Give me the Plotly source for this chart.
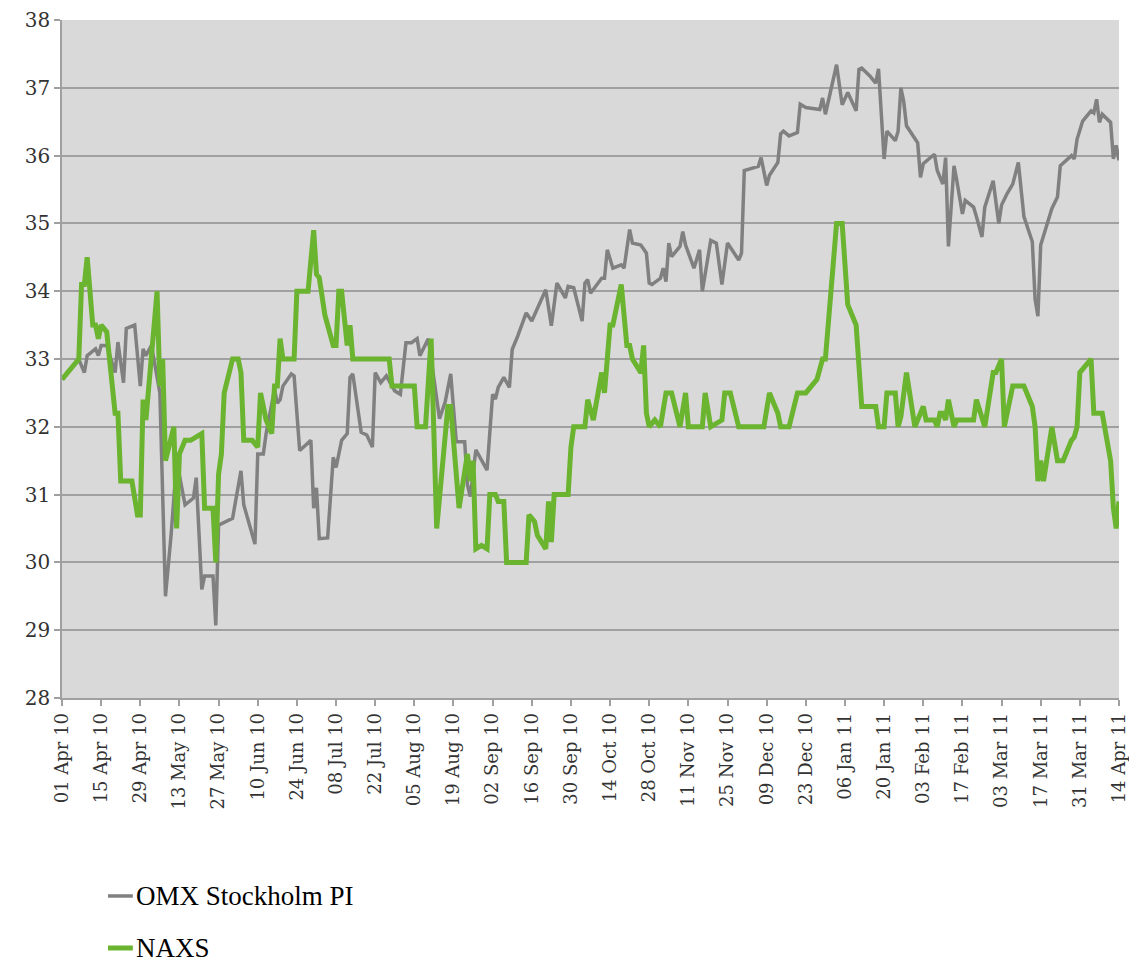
import plotly.graph_objects as go

# ---- data ----
omx_dates = [
    "2010-04-01", "2010-04-07", "2010-04-09", "2010-04-10", "2010-04-13", "2010-04-14", "2010-04-15", "2010-04-17",
    "2010-04-20", "2010-04-21", "2010-04-23", "2010-04-24", "2010-04-27", "2010-04-29", "2010-04-30", "2010-05-01",
    "2010-05-03", "2010-05-06", "2010-05-08", "2010-05-10", "2010-05-12", "2010-05-15", "2010-05-18", "2010-05-19",
    "2010-05-21", "2010-05-22", "2010-05-25", "2010-05-26", "2010-05-27", "2010-06-01", "2010-06-04", "2010-06-05",
    "2010-06-09", "2010-06-10", "2010-06-12", "2010-06-13", "2010-06-16", "2010-06-17", "2010-06-18", "2010-06-19",
    "2010-06-22", "2010-06-23", "2010-06-25", "2010-06-29", "2010-06-30", "2010-07-01", "2010-07-02", "2010-07-05",
    "2010-07-07", "2010-07-08", "2010-07-10", "2010-07-12", "2010-07-13", "2010-07-14", "2010-07-17", "2010-07-19",
    "2010-07-21", "2010-07-22", "2010-07-24", "2010-07-26", "2010-07-29", "2010-07-31", "2010-08-02", "2010-08-04",
    "2010-08-06", "2010-08-07", "2010-08-10", "2010-08-14", "2010-08-16", "2010-08-18", "2010-08-20", "2010-08-23",
    "2010-08-24", "2010-08-25", "2010-08-27", "2010-08-31", "2010-09-02", "2010-09-03", "2010-09-04", "2010-09-06",
    "2010-09-08", "2010-09-09", "2010-09-11", "2010-09-14", "2010-09-16", "2010-09-21", "2010-09-23", "2010-09-25",
    "2010-09-28", "2010-09-29", "2010-10-01", "2010-10-04", "2010-10-05", "2010-10-06", "2010-10-07", "2010-10-11",
    "2010-10-12", "2010-10-13", "2010-10-15", "2010-10-18", "2010-10-19", "2010-10-21", "2010-10-22", "2010-10-25",
    "2010-10-27", "2010-10-28", "2010-10-29", "2010-11-01", "2010-11-02", "2010-11-03", "2010-11-04", "2010-11-05",
    "2010-11-08", "2010-11-09", "2010-11-10", "2010-11-13", "2010-11-15", "2010-11-16", "2010-11-19", "2010-11-21",
    "2010-11-23", "2010-11-25", "2010-11-29", "2010-11-30", "2010-12-01", "2010-12-03", "2010-12-06", "2010-12-07",
    "2010-12-09", "2010-12-10", "2010-12-13", "2010-12-14", "2010-12-15", "2010-12-17", "2010-12-20", "2010-12-21",
    "2010-12-23", "2010-12-28", "2010-12-29", "2010-12-30", "2011-01-03", "2011-01-05", "2011-01-07", "2011-01-10",
    "2011-01-11", "2011-01-12", "2011-01-15", "2011-01-17", "2011-01-18", "2011-01-20", "2011-01-21", "2011-01-24",
    "2011-01-25", "2011-01-26", "2011-01-27", "2011-01-28", "2011-01-31", "2011-02-01", "2011-02-02", "2011-02-03",
    "2011-02-07", "2011-02-08", "2011-02-10", "2011-02-11", "2011-02-12", "2011-02-14", "2011-02-15", "2011-02-17",
    "2011-02-18", "2011-02-21", "2011-02-22", "2011-02-24", "2011-02-25", "2011-02-28", "2011-03-02", "2011-03-03",
    "2011-03-05", "2011-03-07", "2011-03-09", "2011-03-11", "2011-03-14", "2011-03-15", "2011-03-16", "2011-03-17",
    "2011-03-19", "2011-03-21", "2011-03-23", "2011-03-24", "2011-03-28", "2011-03-29", "2011-03-30", "2011-04-01",
    "2011-04-04", "2011-04-05", "2011-04-06", "2011-04-07", "2011-04-08", "2011-04-11", "2011-04-12", "2011-04-13",
    "2011-04-14",
]
omx_values = [
    32.7, 33.0, 32.8, 33.05, 33.15, 33.05, 33.2, 33.2,
    32.8, 33.25, 32.65, 33.45, 33.5, 32.6, 33.15, 33.05,
    33.2, 32.5, 29.5, 30.4, 31.5, 30.85, 30.95, 31.25,
    29.6, 29.8, 29.8, 29.07, 30.55, 30.65, 31.35, 30.85,
    30.27, 31.6, 31.6, 31.9, 32.55, 32.35, 32.4, 32.6,
    32.78, 32.75, 31.65, 31.8, 30.8, 31.1, 30.35, 30.36,
    31.55, 31.4, 31.8, 31.9, 32.73, 32.78, 31.92, 31.88,
    31.7, 32.8, 32.65, 32.75, 32.53, 32.48, 33.24, 33.24,
    33.3, 33.05, 33.3, 32.12, 32.36, 32.78, 31.78, 31.78,
    31.14, 30.97, 31.66, 31.36, 32.48, 32.41, 32.58, 32.73,
    32.58, 33.14, 33.34, 33.68, 33.56, 34.02, 33.49, 34.12,
    33.9, 34.07, 34.05, 33.56, 34.12, 34.17, 33.97, 34.19,
    34.19, 34.61, 34.34, 34.39, 34.34, 34.91, 34.71, 34.68,
    34.56, 34.12, 34.1, 34.19, 34.34, 34.14, 34.71, 34.51,
    34.66, 34.88, 34.68, 34.34, 34.61, 34.0, 34.75, 34.71,
    34.1, 34.71, 34.46, 34.56, 35.78, 35.8, 35.84, 35.97,
    35.56, 35.71, 35.9, 36.32, 36.36, 36.29, 36.34, 36.76,
    36.71, 36.68, 36.85, 36.61, 37.34, 36.75, 36.93, 36.66,
    37.27, 37.29, 37.17, 37.07, 37.28, 35.95, 36.36, 36.22,
    36.36, 37.0, 36.8, 36.44, 36.24, 36.19, 35.68, 35.88,
    36.02, 35.78, 35.58, 35.97, 34.66, 35.85, 35.63, 35.14,
    35.34, 35.24, 35.1, 34.8, 35.24, 35.63, 35.0, 35.27,
    35.44, 35.58, 35.9, 35.1, 34.73, 33.88, 33.63, 34.68,
    34.95, 35.22, 35.39, 35.85, 36.0, 35.95, 36.24, 36.51,
    36.66, 36.63, 36.83, 36.49, 36.61, 36.49, 35.95, 36.15,
    35.93,
]

naxs_dates = [
    "2010-04-01", "2010-04-07", "2010-04-08", "2010-04-09", "2010-04-10", "2010-04-11", "2010-04-12", "2010-04-13",
    "2010-04-14", "2010-04-15", "2010-04-17", "2010-04-20", "2010-04-21", "2010-04-22", "2010-04-26", "2010-04-28",
    "2010-04-29", "2010-04-30", "2010-05-01", "2010-05-05", "2010-05-06", "2010-05-07", "2010-05-08", "2010-05-11",
    "2010-05-12", "2010-05-13", "2010-05-15", "2010-05-17", "2010-05-21", "2010-05-22", "2010-05-25", "2010-05-26",
    "2010-05-27", "2010-05-28", "2010-05-29", "2010-06-01", "2010-06-03", "2010-06-04", "2010-06-05", "2010-06-08",
    "2010-06-10", "2010-06-11", "2010-06-13", "2010-06-15", "2010-06-16", "2010-06-17", "2010-06-18", "2010-06-19",
    "2010-06-23", "2010-06-24", "2010-06-28", "2010-06-30", "2010-07-01", "2010-07-02", "2010-07-04", "2010-07-07",
    "2010-07-08", "2010-07-09", "2010-07-10", "2010-07-12", "2010-07-13", "2010-07-14", "2010-07-27", "2010-07-28",
    "2010-08-05", "2010-08-06", "2010-08-09", "2010-08-11", "2010-08-13", "2010-08-17", "2010-08-18", "2010-08-21",
    "2010-08-24", "2010-08-25", "2010-08-26", "2010-08-27", "2010-08-29", "2010-08-31", "2010-09-01", "2010-09-03",
    "2010-09-04", "2010-09-06", "2010-09-07", "2010-09-14", "2010-09-15", "2010-09-17", "2010-09-18", "2010-09-21",
    "2010-09-22", "2010-09-23", "2010-09-24", "2010-09-29", "2010-09-30", "2010-10-01", "2010-10-05", "2010-10-06",
    "2010-10-08", "2010-10-11", "2010-10-12", "2010-10-14", "2010-10-15", "2010-10-18", "2010-10-20", "2010-10-21",
    "2010-10-22", "2010-10-25", "2010-10-26", "2010-10-27", "2010-10-28", "2010-10-30", "2010-11-01", "2010-11-03",
    "2010-11-05", "2010-11-08", "2010-11-10", "2010-11-11", "2010-11-16", "2010-11-17", "2010-11-19", "2010-11-23",
    "2010-11-24", "2010-11-26", "2010-11-29", "2010-12-08", "2010-12-10", "2010-12-13", "2010-12-14", "2010-12-17",
    "2010-12-20", "2010-12-23", "2010-12-27", "2010-12-29", "2010-12-30", "2011-01-03", "2011-01-05", "2011-01-07",
    "2011-01-10", "2011-01-12", "2011-01-17", "2011-01-18", "2011-01-20", "2011-01-21", "2011-01-24", "2011-01-25",
    "2011-01-26", "2011-01-28", "2011-01-31", "2011-02-03", "2011-02-04", "2011-02-07", "2011-02-08", "2011-02-09",
    "2011-02-10", "2011-02-11", "2011-02-12", "2011-02-14", "2011-02-15", "2011-02-21", "2011-02-22", "2011-02-25",
    "2011-02-28", "2011-03-01", "2011-03-03", "2011-03-04", "2011-03-07", "2011-03-11", "2011-03-14", "2011-03-15",
    "2011-03-16", "2011-03-17", "2011-03-18", "2011-03-21", "2011-03-23", "2011-03-25", "2011-03-28", "2011-03-29",
    "2011-03-30", "2011-03-31", "2011-04-04", "2011-04-05", "2011-04-08", "2011-04-11", "2011-04-12", "2011-04-13",
    "2011-04-14",
]
naxs_values = [
    32.7, 33.0, 34.1, 34.1, 34.5, 34.0, 33.5, 33.5,
    33.3, 33.5, 33.4, 32.2, 32.2, 31.2, 31.2, 30.7,
    30.7, 32.4, 32.1, 34.0, 32.6, 33.0, 31.5, 32.0,
    30.5, 31.6, 31.8, 31.8, 31.9, 30.8, 30.8, 30.0,
    31.3, 31.6, 32.5, 33.0, 33.0, 32.8, 31.8, 31.8,
    31.7, 32.5, 32.1, 31.9, 32.6, 32.6, 33.3, 33.0,
    33.0, 34.0, 34.0, 34.9, 34.25, 34.2, 33.65, 33.2,
    33.2, 34.0, 34.0, 33.2, 33.5, 33.0, 33.0, 32.6,
    32.6, 32.0, 32.0, 33.3, 30.5, 32.3, 32.3, 30.8,
    31.6, 31.2, 31.5, 30.2, 30.25, 30.2, 31.0, 31.0,
    30.9, 30.9, 30.0, 30.0, 30.7, 30.6, 30.4, 30.2,
    30.9, 30.3, 31.0, 31.0, 31.7, 32.0, 32.0, 32.4,
    32.1, 32.8, 32.5, 33.5, 33.5, 34.1, 33.2, 33.2,
    33.0, 32.8, 33.2, 32.2, 32.0, 32.1, 32.0, 32.5,
    32.5, 32.0, 32.5, 32.0, 32.0, 32.5, 32.0, 32.1,
    32.5, 32.5, 32.0, 32.0, 32.5, 32.2, 32.0, 32.0,
    32.5, 32.5, 32.7, 33.0, 33.0, 35.0, 35.0, 33.8,
    33.5, 32.3, 32.3, 32.0, 32.0, 32.5, 32.5, 32.0,
    32.15, 32.8, 32.0, 32.3, 32.1, 32.1, 32.0, 32.2,
    32.2, 32.1, 32.4, 32.0, 32.1, 32.1, 32.4, 32.0,
    32.8, 32.8, 33.0, 32.0, 32.6, 32.6, 32.3, 32.0,
    31.2, 31.5, 31.2, 32.0, 31.5, 31.5, 31.8, 31.85,
    32.0, 32.8, 33.0, 32.2, 32.2, 31.5, 30.8, 30.5,
    30.9,
]

tick_dates = [
    "2010-04-01", "2010-04-15", "2010-04-29", "2010-05-13", "2010-05-27", "2010-06-10", "2010-06-24",
    "2010-07-08", "2010-07-22", "2010-08-05", "2010-08-19", "2010-09-02", "2010-09-16", "2010-09-30",
    "2010-10-14", "2010-10-28", "2010-11-11", "2010-11-25", "2010-12-09", "2010-12-23", "2011-01-06",
    "2011-01-20", "2011-02-03", "2011-02-17", "2011-03-03", "2011-03-17", "2011-03-31", "2011-04-14",
]
tick_labels = [
    "01 Apr 10", "15 Apr 10", "29 Apr 10", "13 May 10", "27 May 10", "10 Jun 10", "24 Jun 10",
    "08 Jul 10", "22 Jul 10", "05 Aug 10", "19 Aug 10", "02 Sep 10", "16 Sep 10", "30 Sep 10",
    "14 Oct 10", "28 Oct 10", "11 Nov 10", "25 Nov 10", "09 Dec 10", "23 Dec 10", "06 Jan 11",
    "20 Jan 11", "03 Feb 11", "17 Feb 11", "03 Mar 11", "17 Mar 11", "31 Mar 11", "14 Apr 11",
]
series_names = ["OMX Stockholm PI", "NAXS"]

GRAY = "#808080"
GREEN = "#6ab42f"
series_colors = [GRAY, GREEN]
series_widths = [3.5, 5]

fig = go.Figure()
fig.add_trace(go.Scatter(
    x=omx_dates, y=omx_values, mode="lines", name=series_names[0],
    line=dict(color=GRAY, width=series_widths[0])))
fig.add_trace(go.Scatter(
    x=naxs_dates, y=naxs_values, mode="lines", name=series_names[1],
    line=dict(color=GREEN, width=series_widths[1])))

# Legend drawn below the plot (stacked vertically, as in the reference).
legend_rows_y = [-0.292, -0.3687]
for name, color, width, ly in zip(series_names, series_colors, series_widths, legend_rows_y):
    fig.add_shape(type="line", xref="paper", yref="paper",
                  x0=0.0435, x1=0.067, y0=ly, y1=ly,
                  line=dict(color=color, width=width))
    fig.add_annotation(xref="paper", yref="paper", x=0.068, y=ly,
                       xanchor="left", yanchor="middle", showarrow=False,
                       text=name, font=dict(family="Liberation Serif", size=27, color="black"))

# The page body has an 8px margin, so the figure is sized to fit inside the window.
fig.update_layout(
    width=1121, height=957,
    margin=dict(l=54, r=10, t=12, b=267),
    paper_bgcolor="white",
    plot_bgcolor="#d9d9d9",
    showlegend=False,
    xaxis=dict(
        type="date", automargin=False, ticklabeloverflow="allow",
        range=["2010-04-01", "2011-04-14"],
        tickmode="array", tickvals=tick_dates, ticktext=tick_labels,
        tickangle=-90,
        tickfont=dict(family="DejaVu Serif", size=18, color="#333333"),
        ticks="outside", ticklen=6, tickcolor="#a0a0a0", tickwidth=1.5,
        showgrid=False, zeroline=False,
        showline=True, linecolor="#a0a0a0", linewidth=1.5,
    ),
    yaxis=dict(
        range=[28, 38], dtick=1, tick0=28, automargin=False, ticklabeloverflow="allow",
        tickfont=dict(family="DejaVu Serif", size=20, color="#333333"),
        ticks="outside", ticklen=6, tickcolor="#a0a0a0", tickwidth=1.5,
        showgrid=True, gridcolor="#a0a0a0", gridwidth=1.5,
        zeroline=False,
        showline=True, linecolor="#a0a0a0", linewidth=1.5,
    ),
)

fig.write_html("out.html")
